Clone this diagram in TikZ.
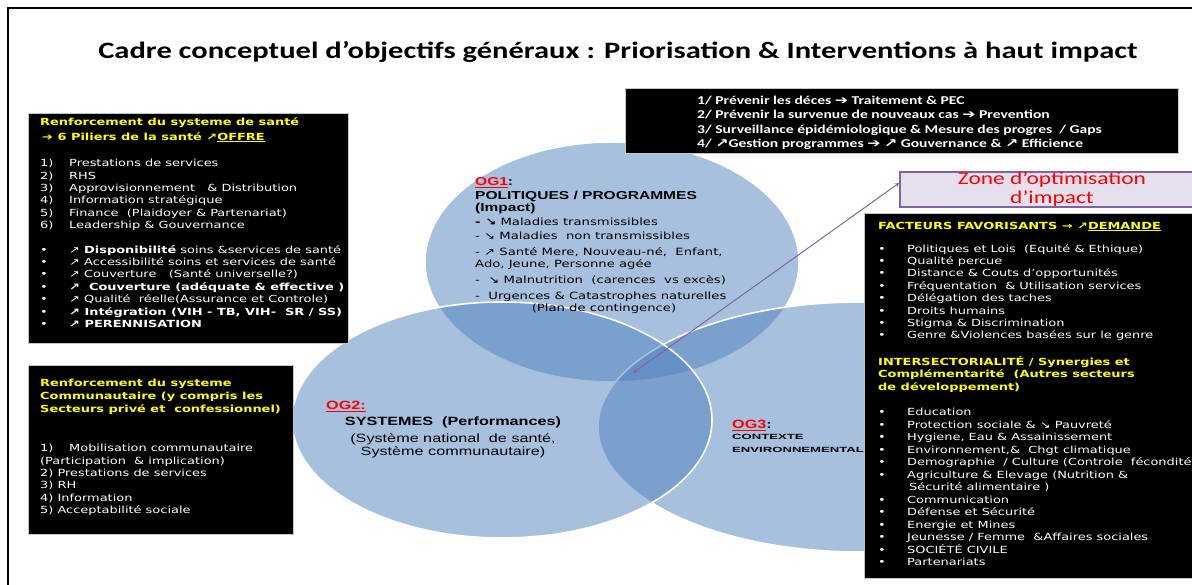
\documentclass[tikz,border=0pt]{standalone}
\usepackage{fontspec}
\newfontfamily\vfont[FakeStretch=1.32]{DejaVu Sans}
\newfontfamily\afont[FakeStretch=1.35]{Liberation Sans}
\newfontfamily\wfont[FakeStretch=1.75]{Liberation Sans}
\newfontfamily\cfont[FakeStretch=1.3]{Carlito}
\usetikzlibrary{calc,positioning,arrows,shapes.geometric}
\definecolor{ogblue}{HTML}{4F81BD}
\definecolor{zonepurple}{HTML}{8064A2}
\definecolor{zonefill}{HTML}{E6E0EC}
\definecolor{ylw}{HTML}{FFFF00}
\definecolor{rouge}{HTML}{FF0000}
\newcommand{\nb}[1]{\makebox[29pt][l]{#1}}

\begin{document}
\begin{tikzpicture}[x=1pt,y=-1pt,
    og/.style={ellipse,fill=ogblue,fill opacity=0.5,draw=white,draw opacity=1,line width=1.6pt,inner sep=0pt},
    blackbox/.style={anchor=north west,fill=black,draw=gray!45,line width=0.8pt,inner sep=0pt},
    txt/.style={anchor=north west,inner sep=0pt,align=left,text=white,execute at begin node={\rule{0pt}{10pt}}},
    vtxt/.style={font={\vfont\fontsize{9.8}{12.4}\selectfont}},
    vhead/.style={font={\vfont\bfseries\fontsize{9.8}{12.6}\selectfont},text=ylw}]
  \useasboundingbox (0,0) rectangle (1192,584);
  \draw[line width=1.3pt] (8,600) -- (8,8) -- (1200,8);

  \node[font={\cfont\bfseries\fontsize{23.5}{27}\selectfont}] (titre) at (618,52) {Cadre conceptuel d’objectifs généraux : Priorisation \& Interventions à haut impact};

  % les trois objectifs
  \node[og,minimum width=374pt,minimum height=240pt] (og1) at (612,262) {};
  \node[og,minimum width=524pt,minimum height=250pt] (og3) at (860,427) {};
  \node[og,minimum width=420pt,minimum height=236pt] (og2) at (502,420) {};

  % boites noires
  \node[blackbox,minimum width=320pt,minimum height=230pt] (boxsante) at (28,113) {};
  \node[blackbox,minimum width=265pt,minimum height=169pt] (boxcommu) at (28,365) {};
  \node[blackbox,minimum width=553pt,minimum height=65pt] (boxprio) at (625,88) {};
  \node[blackbox,minimum width=340pt,minimum height=365pt] (boxdemande) at (864,213) {};

  \node[draw=zonepurple,fill=zonefill,line width=1.5pt,minimum width=304pt,minimum height=35pt,inner sep=0pt,align=center,text=rouge,font={\cfont\fontsize{18}{19}\selectfont}] (zone) at (1052,189.5) {Zone d’optimisation\\ d’impact};
  \coordinate (coeur) at (633,373);
  \draw[<->,>=stealth,zonepurple,line width=1pt] (coeur) -- ($(zone.north west)!0.32!(zone.south west)$);

  % systeme de sante
  \node[txt,font={\vfont\bfseries\fontsize{9.8}{15}\selectfont},text=ylw] (sante) at (40,117) {Renforcement du systeme de santé\\ \hspace{2pt}➔ 6 Piliers de la santé ↗\underline{OFFRE}};
  \node[txt,vtxt] (piliers) at (40,159) {\nb{1)}Prestations de services\\ \nb{2)}RHS\\ \nb{3)}Approvisionnement \ \ \& Distribution\\ \nb{4)}Information stratégique\\ \nb{5)}Finance \ (Plaidoyer \& Partenariat)\\ \nb{6)}Leadership \& Gouvernance};
  \node[txt,vtxt] (offre) at (40,245) {\nb{•}↗ \textbf{Disponibilité} soins \&services de santé\\ \nb{•}↗ Accessibilité soins et services de santé\\ \nb{•}↗ Couverture \ \ (Santé universelle?)\\ \nb{•}\textbf{↗ \ Couverture (adéquate \& effective )}\\ \nb{•}↗ Qualité \ réelle(Assurance et Controle)\\ \nb{•}\textbf{↗ Intégration (VIH - TB, VIH- \ SR / SS)}\\ \nb{•}\textbf{↗ PERENNISATION}};

  % systeme communautaire
  \node[txt,vhead,font={\vfont\bfseries\fontsize{9.8}{13}\selectfont}] (commu) at (40,379) {Renforcement du systeme\\ Communautaire (y compris les\\ Secteurs privé et \ confessionnel)};
  \node[txt,vtxt] (commulist) at (40,444) {\nb{1)}Mobilisation communautaire\\ (Participation \ \& implication)\\ 2) Prestations de services\\ 3) RH\\ 4) Information\\ 5) Acceptabilité sociale};

  % priorites
  \node[txt,font={\cfont\bfseries\fontsize{12}{14.3}\selectfont}] (priorites) at (697,96) {1/ Prévenir les déces {\vfont ➔} Traitement \& PEC\\ 2/ Prévenir la survenue de nouveaux cas {\vfont ➔} Prevention\\ 3/ Surveillance épidémiologique \& Mesure des progres \ / Gaps\\ 4/ {\vfont ↗}Gestion programmes {\vfont ➔} {\vfont ↗} Gouvernance \& {\vfont ↗} Efficience};

  % demande
  \node[txt,vhead] (demande) at (878,219) {FACTEURS FAVORISANTS → ↗\underline{DEMANDE}};
  \node[txt,vtxt] (favor) at (878,244) {\nb{•}Politiques et Lois \ (Equité \& Ethique)\\ \nb{•}Qualité percue\\ \nb{•}Distance \& Couts d’opportunités\\ \nb{•}Fréquentation \ \& Utilisation services\\ \nb{•}Délégation des taches\\ \nb{•}Droits humains\\ \nb{•}Stigma \& Discrimination\\ \nb{•}Genre \&Violences basées sur le genre};
  \node[txt,vhead] (inter) at (878,356) {INTERSECTORIALITÉ / Synergies et\\ Complémentarité \ (Autres secteurs\\ de développement)};
  \node[txt,vtxt,font={\vfont\fontsize{9.8}{12.5}\selectfont}] (secteurs) at (878,408) {\nb{•}Education\\ \nb{•}Protection sociale \& ↘ Pauvreté\\ \nb{•}Hygiene, Eau \& Assainissement\\ \nb{•}Environnement,\& \ Chgt climatique\\ \nb{•}Demographie \ / Culture (Controle \ fécondité)\\ \nb{•}Agriculture \& Elevage (Nutrition \&\\ \nb{}\hspace{2pt}Sécurité alimentaire )\\ \nb{•}Communication\\ \nb{•}Défense et Sécurité\\ \nb{•}Energie et Mines\\ \nb{•}Jeunesse / Femme \ \&Affaires sociales\\ \nb{•}SOCIÉTÉ CIVILE\\ \nb{•}Partenariats};

  % OG1
  \node[txt,text=rouge,font={\afont\bfseries\fontsize{11.5}{13}\selectfont}] (og1lbl) at (475,175) {\underline{OG1}\textcolor{black}{:}};
  \node[txt,text=black,font={\afont\bfseries\fontsize{11.5}{12}\selectfont}] (og1titre) at (475,191) {POLITIQUES / PROGRAMMES\\ (Impact)};
  \node[txt,text=black,font={\vfont\fontsize{10}{12}\selectfont}] (og1list) at (475,218) {\textbf{- ↘} Maladies transmissibles\\[2pt] - ↘ Maladies \ non transmissibles\\[4pt] - ↗ Santé Mere, Nouveau-né, \ Enfant,\\ Ado, Jeune, Personne agée\\[4pt] - \ ↘ Malnutrition \ (carences \ vs excès)\\[4pt] - \ Urgences \& Catastrophes naturelles};
  \node[anchor=base,inner sep=0pt,font={\vfont\fontsize{10}{12}\selectfont}] (plan) at (604,311) {(Plan de contingence)};

  % OG2
  \node[txt,text=rouge,font={\afont\bfseries\fontsize{12}{13}\selectfont}] (og2lbl) at (326,399) {\underline{OG2:}};
  \node[anchor=base,inner sep=0pt,font={\afont\bfseries\fontsize{12}{13}\selectfont}] (og2titre) at (453,425) {SYSTEMES \ (Performances)};
  \node[anchor=north,inner sep=0pt,align=center,font={\afont\fontsize{12}{13}\selectfont},execute at begin node={\rule{0pt}{10pt}}] (og2sous) at (453,433) {(Système national \ de santé,\\ Système communautaire)};

  % OG3
  \node[txt,text=rouge,font={\afont\bfseries\fontsize{12}{13}\selectfont}] (og3lbl) at (732,418) {\underline{OG3}\textcolor{black}{:}};
  \node[txt,text=black,font={\wfont\bfseries\fontsize{7.5}{13}\selectfont}] (og3titre) at (732,434) {CONTEXTE\\ ENVIRONNEMENTAL};
\end{tikzpicture}
\end{document}
